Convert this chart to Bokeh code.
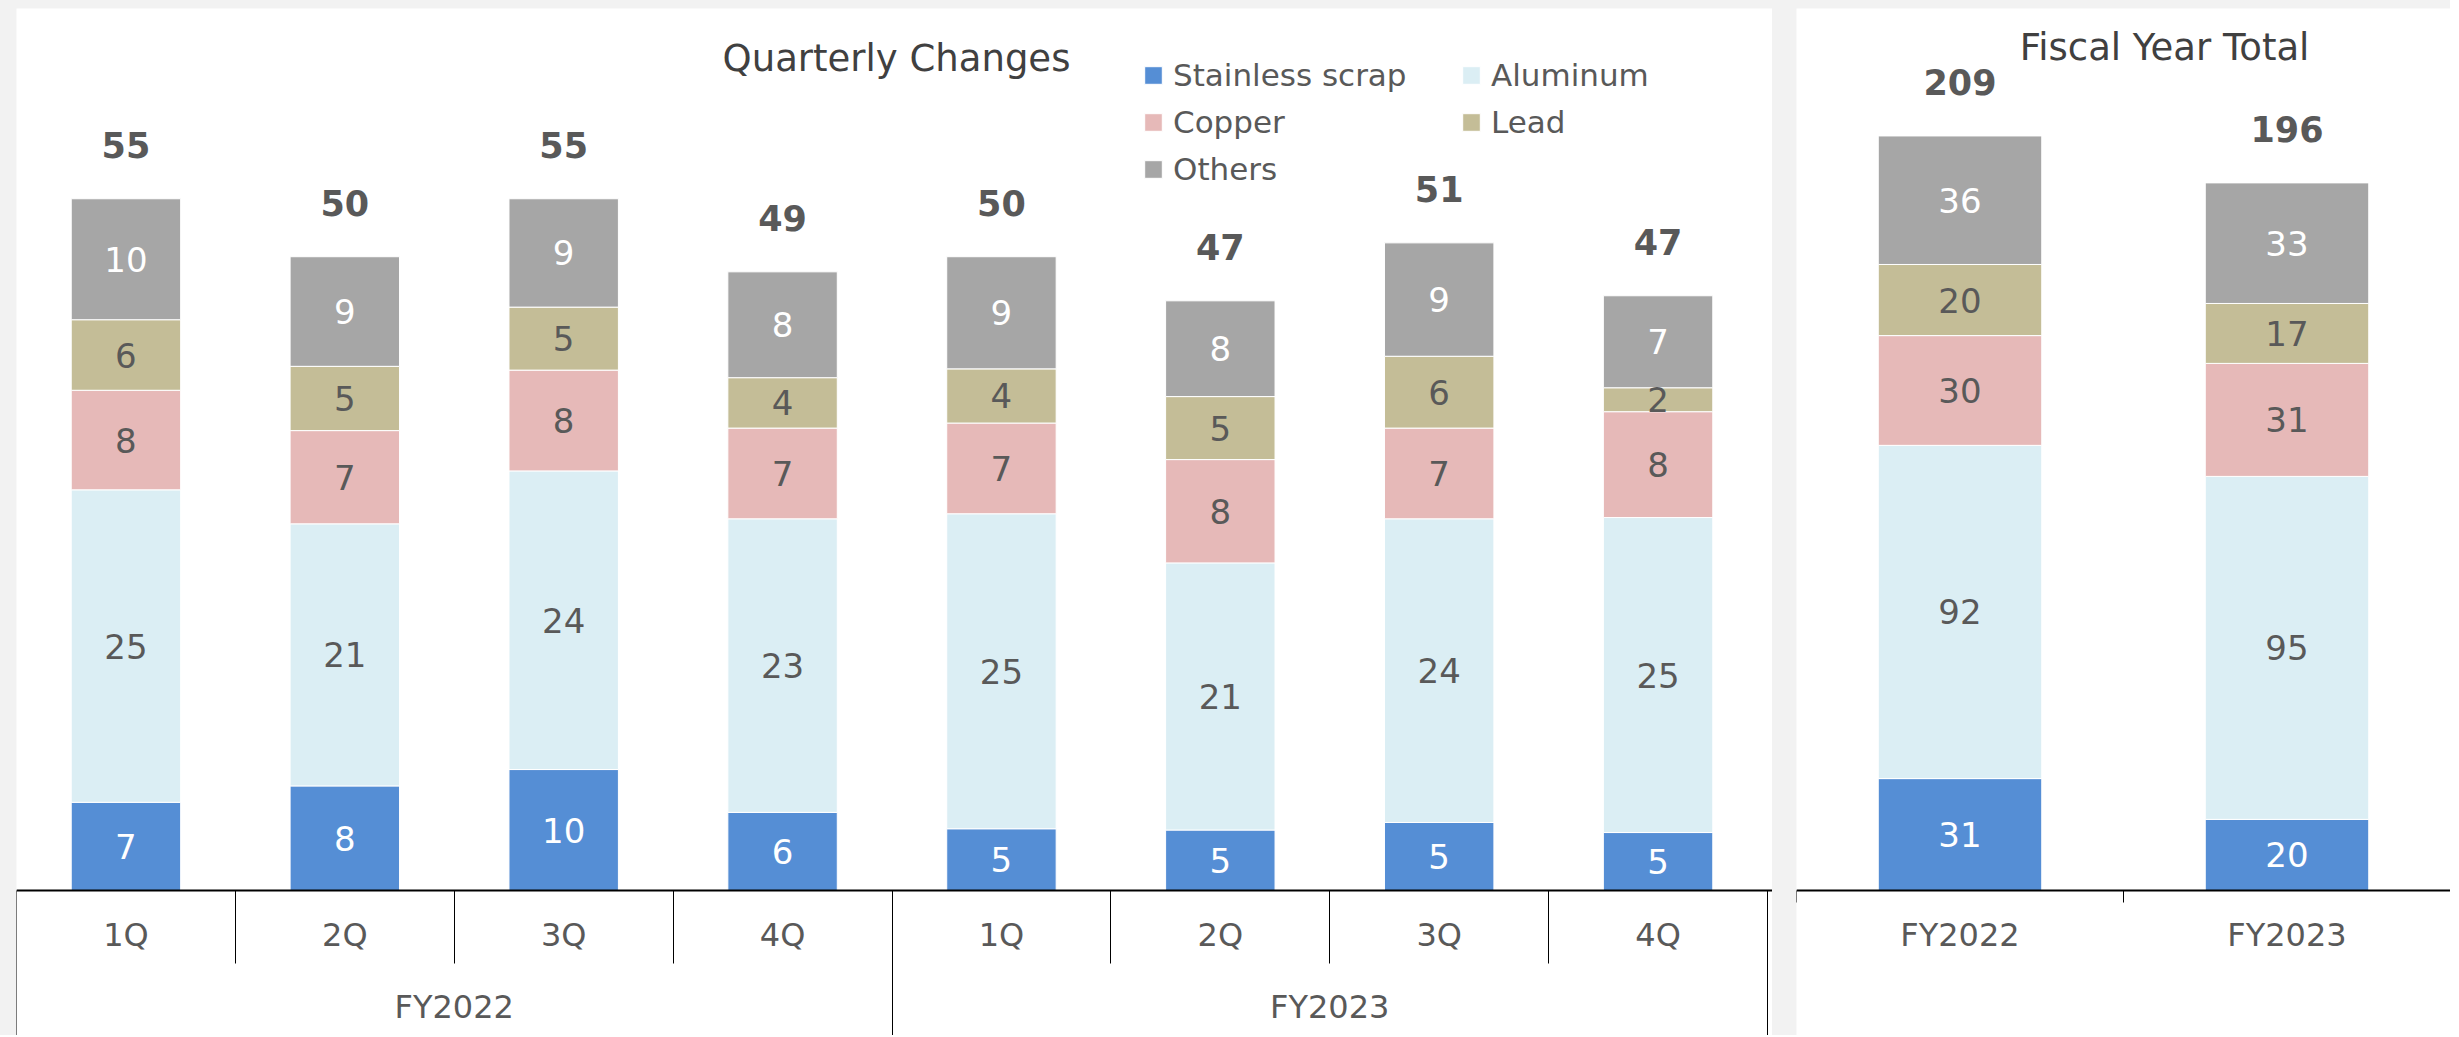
from bokeh.plotting import figure
from bokeh.models import (ColumnDataSource, Range1d, LinearAxis, FixedTicker, Legend,
                          LegendItem, Label, Spacer, Row, Column)
from bokeh.core.properties import value
from bokeh.embed import file_html
from bokeh.resources import INLINE

# ---------------- data ----------------
years = ["FY2022", "FY2023"]
quarters = ["1Q", "2Q", "3Q", "4Q"]
series_names = ["Stainless scrap", "Aluminum", "Copper", "Lead", "Others"]
series_keys = ["stainless", "aluminum", "copper", "lead", "others"]
colors = ["#558ED5", "#DBEEF4", "#E6B9B8", "#C4BD97", "#A6A6A6"]
label_colors = ["#FFFFFF", "#595959", "#595959", "#595959", "#FFFFFF"]

# quarterly values: FY2022 1Q..4Q, FY2023 1Q..4Q
stainless_q = [7.0, 8.3, 9.6, 6.2, 4.9, 4.8, 5.4, 4.6]
aluminum_q = [24.8, 20.8, 23.7, 23.3, 25.0, 21.2, 24.1, 25.0]
copper_q = [7.9, 7.4, 8.0, 7.2, 7.2, 8.2, 7.2, 8.4]
lead_q = [5.6, 5.1, 5.0, 4.0, 4.3, 5.0, 5.7, 1.9]
others_q = [9.6, 8.7, 8.6, 8.4, 8.9, 7.6, 9.0, 7.3]

# fiscal year totals: FY2022, FY2023
stainless_fy = [31.0, 19.7]
aluminum_fy = [92.3, 95.0]
copper_fy = [30.4, 31.3]
lead_fy = [19.7, 16.6]
others_fy = [35.6, 33.4]

FONT = "DejaVu Sans"
TXT = "#595959"
FIG_H = 1027
BASE_PX = 882          # distance of the zero line from the top of the plot area


def stacked(p, xs, cols):
    data = {"x": xs}
    for k, c in zip(series_keys, cols):
        data[k] = c
    src = ColumnDataSource(data)
    rends = p.vbar_stack(series_keys, x="x", width=0.5, color=colors, source=src,
                         line_color="white", line_width=1)
    lx, ly, lt, lc = [], [], [], []
    base = [0.0] * len(xs)
    for c, col in zip(cols, label_colors):
        for i, v in enumerate(c):
            lx.append(xs[i]); ly.append(base[i] + v / 2.0)
            lt.append(str(int(round(v)))); lc.append(col)
            base[i] += v
    lsrc = ColumnDataSource(dict(x=lx, y=ly, t=lt, c=lc))
    p.text(x="x", y="y", text="t", text_color="c", source=lsrc,
           text_font=value(FONT), text_font_size="34px",
           text_align="center", text_baseline="middle")
    tsrc = ColumnDataSource(dict(x=xs, y=base, t=[str(int(round(b))) for b in base]))
    p.text(x="x", y="y", text="t", source=tsrc, text_color=TXT,
           text_font=value(FONT), text_font_size="35px", text_font_style="bold",
           text_align="center", text_baseline="middle", y_offset=-54)
    return rends


def base_fig(width, n, ymax, axis_px):
    ppu = BASE_PX / ymax
    p = figure(width=width, height=FIG_H, x_range=Range1d(0, n * width / axis_px),
               y_range=Range1d(-(FIG_H - BASE_PX) / ppu, ymax),
               output_backend="svg", toolbar_location=None, title=None,
               x_axis_location=None, y_axis_location=None,
               min_border_left=0, min_border_right=0, min_border_top=0, min_border_bottom=0,
               outline_line_color=None, background_fill_color="white",
               border_fill_color="white")
    p.grid.visible = False
    return p


def label_axis(ticks, labels, standoff, line):
    ax = LinearAxis(ticker=FixedTicker(ticks=ticks, minor_ticks=[]), fixed_location=0,
                    major_label_overrides={t: l for t, l in zip(ticks, labels)})
    ax.major_tick_line_color = None
    ax.major_tick_out = 0
    ax.major_tick_in = 0
    ax.minor_tick_line_color = None
    ax.major_label_text_font = FONT
    ax.major_label_text_font_size = "32px"
    ax.major_label_text_color = TXT
    ax.major_label_standoff = standoff
    if line:
        ax.axis_line_color = "#000000"
        ax.axis_line_width = 2
    else:
        ax.axis_line_color = None
    return ax


def sep_axis(ticks, length):
    ax = LinearAxis(ticker=FixedTicker(ticks=ticks, minor_ticks=[]), fixed_location=0)
    ax.axis_line_color = None
    ax.major_tick_out = length
    ax.major_tick_in = 0
    ax.major_tick_line_color = "#000000"
    ax.major_tick_line_width = 1
    ax.minor_tick_line_color = None
    ax.major_label_text_color = None
    ax.major_label_text_font_size = "1px"
    return ax


# ---------------- quarterly panel ----------------
qlabels = [q for y in years for q in quarters]
xq = [i + 0.5 for i in range(len(qlabels))]
p1 = base_fig(1756, len(qlabels), 70, 1751)
rends = stacked(p1, xq, [stainless_q, aluminum_q, copper_q, lead_q, others_q])

nq = len(quarters)
xfy = [nq * (i + 0.5) for i in range(len(years))]
p1.add_layout(sep_axis([i for i in range(1, len(qlabels)) if i % nq != 0], 73), "below")
p1.add_layout(sep_axis([i for i in range(0, len(qlabels) + 1) if i % nq == 0], 160), "below")
p1.add_layout(label_axis(xq, qlabels, 25, True), "below")
p1.add_layout(label_axis(xfy, years, 97, False), "below")

p1.add_layout(Label(x=880, y=FIG_H - 28, x_units="screen", y_units="screen",
                    text="Quarterly Changes", text_font=FONT, text_font_size="37px",
                    text_color="#404040", text_align="center", text_baseline="top"))

legend = Legend(items=[LegendItem(label=n, renderers=[r]) for n, r in zip(series_names, rends)],
                orientation="horizontal", ncols=2, location=(1126, FIG_H - 179),
                glyph_width=22, glyph_height=22, label_standoff=9, label_width=276,
                label_height=36, spacing=11, padding=0, margin=0,
                border_line_color=None, background_fill_alpha=0,
                label_text_font=FONT, label_text_font_size="31px", label_text_color=TXT)
p1.add_layout(legend)

# ---------------- fiscal year panel ----------------
xy = [i + 0.5 for i in range(len(years))]
p2 = base_fig(654, len(years), 244.3, 654)
stacked(p2, xy, [stainless_fy, aluminum_fy, copper_fy, lead_fy, others_fy])
p2.add_layout(sep_axis(list(range(len(years) + 1)), 12), "below")
p2.add_layout(label_axis(xy, years, 25, True), "below")

p2.add_layout(Label(x=368, y=FIG_H - 17, x_units="screen", y_units="screen",
                    text="Fiscal Year Total", text_font=FONT, text_font_size="37px",
                    text_color="#404040", text_align="center", text_baseline="top"))

inner = Row(children=[Spacer(width=16, height=FIG_H), p1, Spacer(width=24, height=FIG_H), p2],
            spacing=0)
page = Column(children=[Spacer(width=2450, height=8), inner], spacing=0,
              styles={"background-color": "#f2f2f2"})

open("out.html", "w").write(file_html(page, INLINE))
